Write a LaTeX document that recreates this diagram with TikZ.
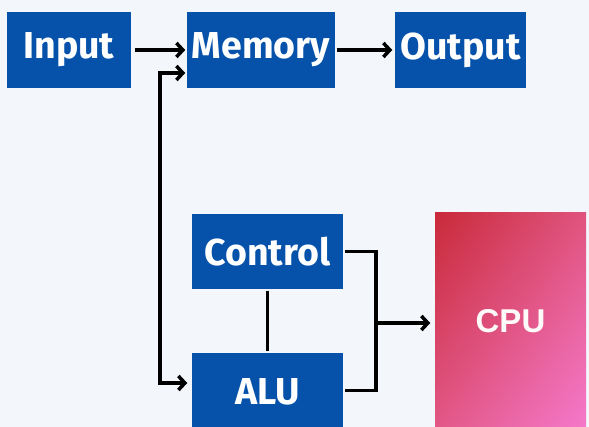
\documentclass[tikz,border=0pt]{standalone}
\usepackage{fontspec}
\setmainfont{Fira Sans}
\newfontfamily\cpufont{Liberation Sans}
\usetikzlibrary{arrows.meta,shadings}
\definecolor{pagebg}{HTML}{F3F6FB}
\definecolor{boxblue}{HTML}{0652AB}
\definecolor{cpured}{HTML}{C92A3A}
\definecolor{cpupink}{HTML}{F67BCF}
\definecolor{cpumid}{HTML}{E0547E}

\begin{document}
\begin{tikzpicture}[x=1pt,y=-1pt,>={Straight Barb[length=6.5pt,width=14pt,line width=3.5pt]},line width=3.5pt,
    unit node/.style={fill=boxblue,text=white,inner sep=0pt,minimum height=76pt,font=\fontsize{37.5}{40}\selectfont\bfseries}]
    \clip (0,0) rectangle (589,427);
    \fill[pagebg] (0,0) rectangle (589,427);
    % cpu block with its gradient
    \shade[upper left=cpured,upper right=cpumid,lower left=cpumid!85!cpupink,lower right=cpupink] (435,213) rectangle (586,440);
    \node[inner sep=0pt,minimum width=151pt,minimum height=227pt] (cpu) at (510.5,326.5) {};
    \node[text=white!92!pink,font=\cpufont\fontsize{33}{35}\selectfont\bfseries] (cpulabel) at (510.5,321) {CPU};

    \node[unit node,minimum width=124pt] (input) at (69,50) {Input};
    \node[unit node,minimum width=148pt] (memory) at (261,50) {Memory};
    \node[unit node,minimum width=131pt] (output) at (460.5,50) {Output};
    \node[unit node,minimum width=151pt,minimum height=75pt] (control) at (267.5,251.5) {Control};
    \node[unit node,minimum width=151pt,minimum height=78pt] (alu) at (267.5,392) {ALU};
    \coordinate (bus) at (376,323);

    \draw[->] ([xshift=2pt]input.east) -- (memory.west);
    \draw[->] (memory.east) -- ([xshift=-1pt]output.west);
    \draw[<->] ([yshift=-23pt]memory.west) -| (160,200) |- ([yshift=9pt,xshift=-3pt]alu.west);
    \draw (control.south) -- (alu.north);
    \draw (control.east) -| (bus) |- ([yshift=1.5pt]alu.east);
    \draw[->] (bus) -- ([xshift=-3pt]cpu.west |- bus);
\end{tikzpicture}
\end{document}
